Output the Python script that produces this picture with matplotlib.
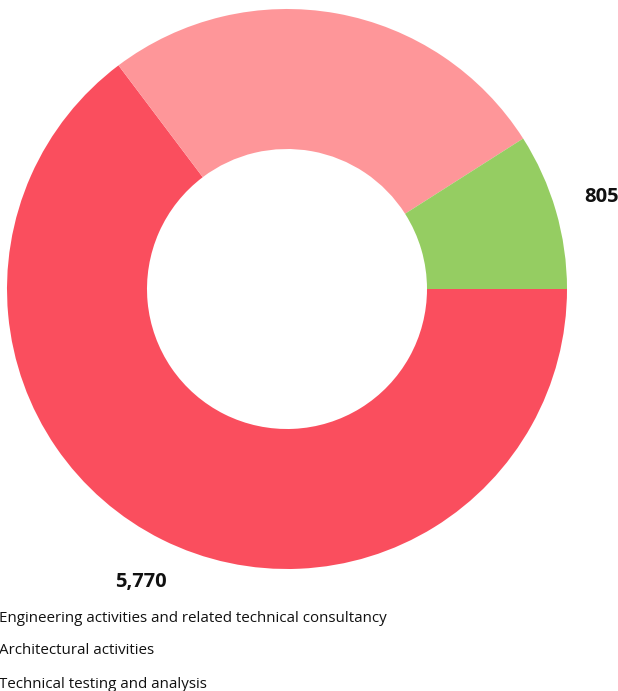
import matplotlib
matplotlib.use("Agg")
import matplotlib.pyplot as plt

plt.rcParams['font.family'] = ['Open Sans', 'DejaVu Sans']

categories = ["Engineering activities and related technical consultancy",
              "Architectural activities",
              "Technical testing and analysis"]
values = [5770, 2340, 805]
value_labels = ["5,770", "2,340", "805"]
colors = ["#FA4E5E", "#FE9699", "#95CD62"]

fig = plt.figure(figsize=(6.18, 6.91), dpi=100)
ax = fig.add_axes([7/618, (691-569)/691, 560/618, 560/691])
wedges, texts = ax.pie(values, colors=colors, startangle=0, counterclock=False,
                       radius=1.0, labels=value_labels, labeldistance=1.17,
                       wedgeprops=dict(width=0.5, linewidth=0),
                       textprops=dict(fontsize=14.5, fontweight='bold', color='#111111'))
for t in texts:
    t.set_ha('center')
    t.set_va('center')
# the middle slice's label falls outside the canvas in the reference
texts[1].set_visible(False)
ax.set_xlim(-1, 1)
ax.set_ylim(-1, 1)
ax.set_aspect('equal')
ax.axis('off')

for i, c in enumerate(categories):
    y = 1 - (618 + 33 * i) / 691
    fig.text(-1/618, y, c, fontsize=10.9, color='#111111', ha='left', va='center')

fig.savefig("out.png", dpi=100)
